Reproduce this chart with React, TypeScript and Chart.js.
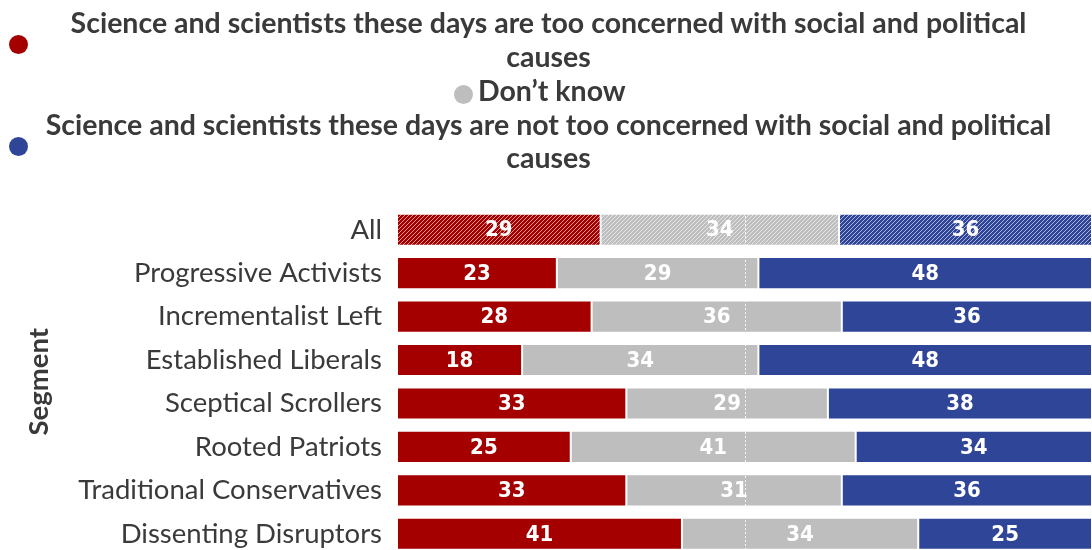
import React, { useEffect, useRef } from "react";
import { Chart, registerables } from "chart.js";

Chart.register(...registerables);

const categories = [
  "All",
  "Progressive Activists",
  "Incrementalist Left",
  "Established Liberals",
  "Sceptical Scrollers",
  "Rooted Patriots",
  "Traditional Conservatives",
  "Dissenting Disruptors",
];
const tooConcerned = [29.3, 23, 28, 18, 33, 25, 33, 41];
const dontKnow = [34.3, 29, 36, 34, 29, 41, 31, 34];
const notTooConcerned = [36.4, 48, 36, 48, 38, 34, 36, 25];

const seriesLabels = [
  "Science and scientists these days are too concerned with social and political causes",
  "Don\u2019t know",
  "Science and scientists these days are not too concerned with social and political causes",
];
const seriesColors = ["#a50000", "#bebebe", "#2f4598"];

const TEXT = "#3a3a3a";

function makeHatch(color: string): CanvasPattern | string {
  const size = 4;
  const c = document.createElement("canvas");
  c.width = size;
  c.height = size;
  const x = c.getContext("2d");
  if (!x) return color;
  x.fillStyle = color;
  x.fillRect(0, 0, size, size);
  x.strokeStyle = "rgba(255,255,255,0.6)";
  x.lineWidth = 1;
  x.beginPath();
  x.moveTo(-1, 1);
  x.lineTo(1, -1);
  x.moveTo(0, size);
  x.lineTo(size, 0);
  x.moveTo(size - 1, size + 1);
  x.lineTo(size + 1, size - 1);
  x.stroke();
  const p = x.createPattern(c, "repeat");
  return p || color;
}

const overlayPlugin = {
  id: "overlay",
  afterDatasetsDraw(chart: any) {
    const { ctx, chartArea, scales } = chart;
    const xMid = scales.x.getPixelForValue(50);
    ctx.save();
    ctx.strokeStyle = "rgba(255,255,255,0.9)";
    ctx.lineWidth = 1;
    ctx.setLineDash([2, 2]);
    ctx.beginPath();
    ctx.moveTo(Math.round(xMid) + 0.5, chartArea.top);
    ctx.lineTo(Math.round(xMid) + 0.5, chartArea.bottom);
    ctx.stroke();
    ctx.setLineDash([]);
    ctx.fillStyle = "#ffffff";
    ctx.font = "bold 22px 'DejaVu Sans Condensed', 'DejaVu Sans', sans-serif";
    ctx.textAlign = "center";
    ctx.textBaseline = "middle";
    chart.data.datasets.forEach((ds: any, di: number) => {
      const meta = chart.getDatasetMeta(di);
      meta.data.forEach((bar: any, i: number) => {
        const v = ds.data[i];
        const cx = (bar.x + bar.base) / 2;
        ctx.fillText(String(Math.round(v)), cx, bar.y + 1);
      });
    });
    ctx.restore();
  },
};

export default function App() {
  const ref = useRef<HTMLCanvasElement | null>(null);

  useEffect(() => {
    if (!ref.current) return;
    const series = [tooConcerned, dontKnow, notTooConcerned];
    const chart = new Chart(ref.current, {
      type: "bar",
      data: {
        labels: categories,
        datasets: series.map((data, si) => {
          const hatch = makeHatch(seriesColors[si]);
          return {
            label: seriesLabels[si],
            data,
            backgroundColor: (c: any) => (c.dataIndex === 0 ? hatch : seriesColors[si]),
            borderColor: "rgba(255,255,255,0.75)",
            borderWidth: 1,
            borderSkipped: false,
            barPercentage: 0.74,
            categoryPercentage: 1,
          };
        }),
      },
      options: {
        indexAxis: "y",
        responsive: false,
        animation: false,
        layout: { padding: { top: 208, bottom: 0, left: 0, right: 0 } },
        plugins: {
          legend: { display: false },
          tooltip: { enabled: false },
          title: { display: false },
        },
        scales: {
          x: { stacked: true, display: false, min: 0, max: 100 },
          y: {
            stacked: true,
            grid: { display: false, drawTicks: false },
            border: { display: false },
            ticks: {
              autoSkip: false,
              color: TEXT,
              padding: 15,
              font: { family: "Lato", size: 27.5 },
            },
            title: {
              display: true,
              text: "Segment",
              color: TEXT,
              font: { family: "Lato", size: 27.5, weight: "bold" },
              padding: { top: 23, bottom: 0 },
            },
            afterFit: (s: any) => {
              s.width = 397;
            },
          },
        },
      },
      plugins: [overlayPlugin],
    } as any);
    return () => chart.destroy();
  }, []);

  const legendText: React.CSSProperties = {
    position: "absolute",
    fontFamily: "Lato, sans-serif",
    fontWeight: 700,
    fontSize: 28.5,
    color: TEXT,
    whiteSpace: "nowrap",
  };
  const dot = (color: string, cx: number, cy: number, size = 19): React.CSSProperties => ({
    position: "absolute",
    left: cx - size / 2,
    top: cy - size / 2,
    width: size,
    height: size,
    borderRadius: "50%",
    background: color,
  });

  return (
    <div
      style={{
        position: "absolute",
        left: 0,
        top: 0,
        width: 1092,
        height: 550,
        overflow: "hidden",
        background: "#fff",
      }}
    >
      <canvas ref={ref} width={1092} height={587} style={{ position: "absolute", left: 0, top: 0 }} />
      <div style={dot(seriesColors[0], 18, 44)} />
      <div style={{ ...legendText, left: 36, top: 5, width: 1025, textAlign: "center", lineHeight: "34px" }}>
        Science and scientists these days are too concerned with social and political
        <br />
        causes
      </div>
      <div style={dot(seriesColors[1], 463, 94)} />
      <div style={{ ...legendText, left: 478, top: 73, lineHeight: "34px" }}>{seriesLabels[1]}</div>
      <div style={dot(seriesColors[2], 18, 146)} />
      <div style={{ ...legendText, left: 36, top: 108, width: 1025, textAlign: "center", lineHeight: "33px" }}>
        Science and scientists these days are not too concerned with social and political
        <br />
        causes
      </div>
    </div>
  );
}
